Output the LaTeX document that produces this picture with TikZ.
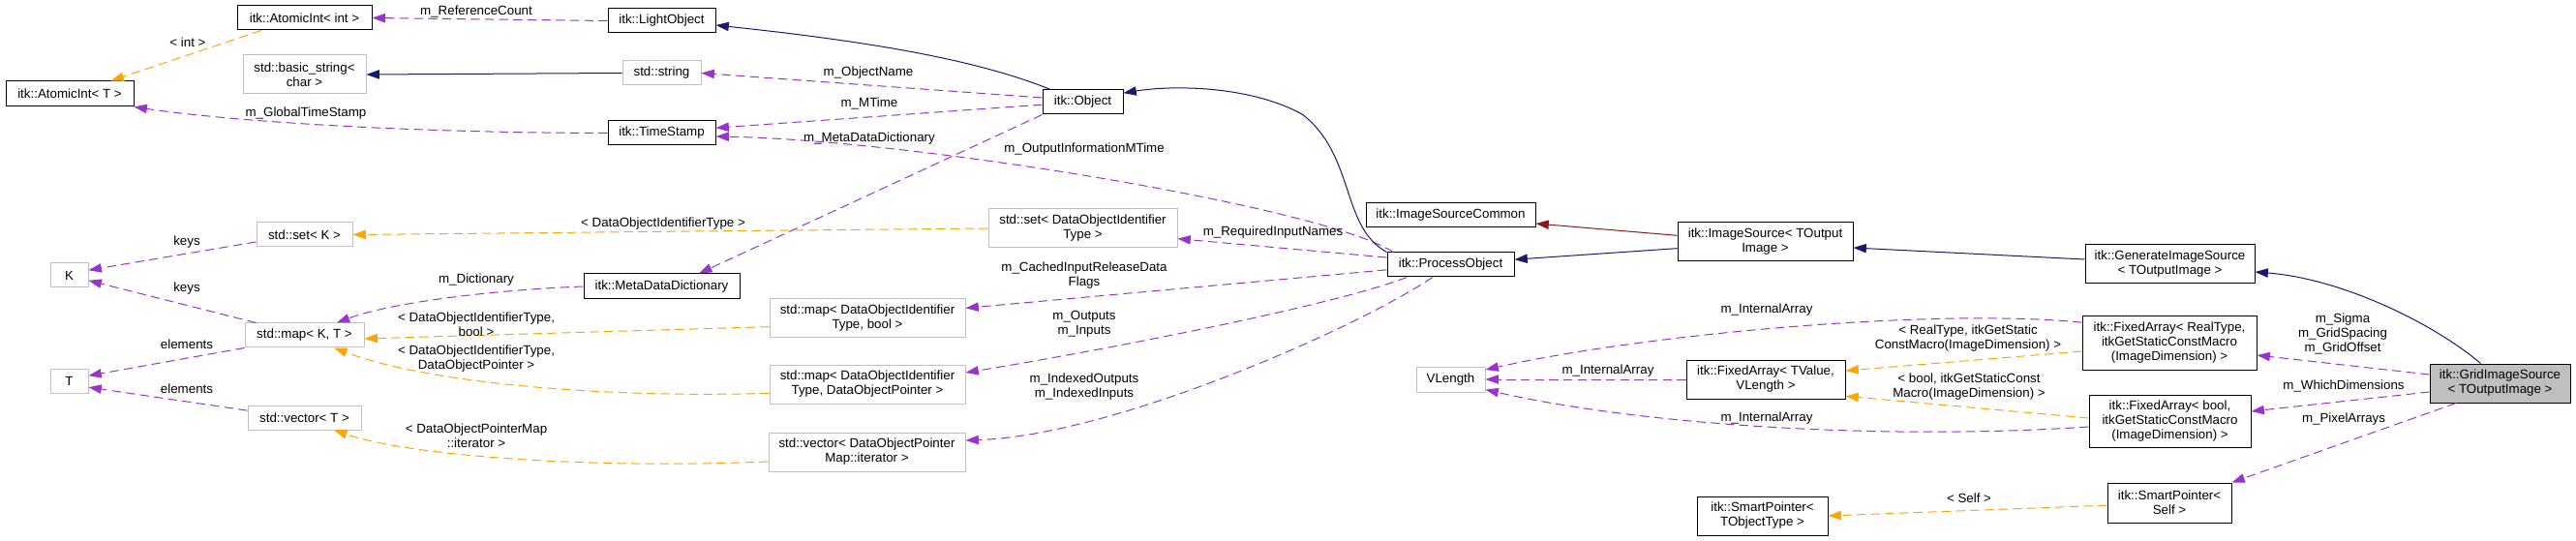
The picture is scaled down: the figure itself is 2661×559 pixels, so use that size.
\documentclass[tikz,border=0pt]{standalone}
\usepackage{fontspec}
\setmainfont{Liberation Sans}
\usetikzlibrary{arrows.meta}
\definecolor{memberc}{HTML}{9A32CD}
\definecolor{tmplc}{HTML}{FFA500}
\definecolor{inhc}{HTML}{191970}
\definecolor{privc}{HTML}{8B1A1A}
\definecolor{framec}{HTML}{BFBFBF}
\begin{document}
\begin{tikzpicture}[
  x=0.75pt, y=-0.75pt,
  font=\fontsize{10}{11.25}\selectfont,
  box/.style={draw=black, line width=0.75pt, fill=white, align=center, inner sep=1pt},
  ext/.style={box, draw=framec},
  sz/.style 2 args={minimum width=#1*0.75pt, minimum height=#2*0.75pt},
  link/.style={line width=0.75pt, -{Triangle[length=10pt,width=7pt]}},
  member/.style={link, draw=memberc, dash pattern=on 7pt off 4pt},
  tmpl/.style={link, draw=tmplc, dash pattern=on 7pt off 4pt},
  inh/.style={link, draw=inhc},
  priv/.style={link, draw=privc},
  lbl/.style={align=center, inner sep=0pt}
]
\useasboundingbox (0,0) rectangle (2661,559);
\node[box, sz={139}{25}] (aint) at (314.5,18.5) {itk::AtomicInt< int >};
\node[box, sz={132}{26}] (aintT) at (72,97) {itk::AtomicInt< T >};
\node[ext, sz={127}{40}] (bstr) at (314.5,77) {std::basic\_string<\\char >};
\node[ext, sz={99}{25}] (setK) at (314.5,242.5) {std::set< K >};
\node[ext, sz={39}{25}] (K) at (71.5,284.5) {K};
\node[ext, sz={123}{25}] (mapKT) at (314.5,346.5) {std::map< K, T >};
\node[ext, sz={39}{25}] (T) at (71.5,393.5) {T};
\node[ext, sz={117}{25}] (vecT) at (314.5,431.5) {std::vector< T >};
\node[box, sz={111}{25}] (lobj) at (683.5,21.5) {itk::LightObject};
\node[ext, sz={81}{25}] (str) at (683.5,75.5) {std::string};
\node[box, sz={111}{25}] (tstamp) at (683.5,137.5) {itk::TimeStamp};
\node[box, sz={161}{26}] (mdd) at (683.5,296) {itk::MetaDataDictionary};
\node[ext, sz={202}{40}] (mapbool) at (896,329) {std::map< DataObjectIdentifier\\Type, bool >};
\node[ext, sz={202}{40}] (mapptr) at (896,397) {std::map< DataObjectIdentifier\\Type, DataObjectPointer >};
\node[ext, sz={203}{40}] (vecit) at (895.5,467) {std::vector< DataObjectPointer\\Map::iterator >};
\node[box, sz={83}{25}] (obj) at (1118.5,105.5) {itk::Object};
\node[ext, sz={195}{40}] (setid) at (1118.5,236) {std::set< DataObjectIdentifier\\Type >};
\node[box, sz={175}{25}] (iscom) at (1498.5,222.5) {itk::ImageSourceCommon};
\node[box, sz={131}{25}] (proc) at (1498.5,273.5) {itk::ProcessObject};
\node[ext, sz={71}{26}] (vlen) at (1498.5,392) {VLength};
\node[box, sz={181}{40}] (isrc) at (1823.5,250) {itk::ImageSource< TOutput\\Image >};
\node[box, sz={164}{40}] (fatv) at (1824,392) {itk::FixedArray< TValue,\\VLength >};
\node[box, sz={135}{40}] (spobj) at (1820.5,533) {itk::SmartPointer<\\TObjectType >};
\node[box, sz={175}{40}] (gis) at (2241.5,273) {itk::GenerateImageSource\\< TOutputImage >};
\node[box, sz={180}{55}] (fareal) at (2241,354.5) {itk::FixedArray< RealType,\\itkGetStaticConstMacro\\(ImageDimension) >};
\node[box, sz={167}{54}] (fabool) at (2241.5,435) {itk::FixedArray< bool,\\itkGetStaticConstMacro\\(ImageDimension) >};
\node[box, sz={128}{41}] (spself) at (2241,519.5) {itk::SmartPointer<\\Self >};
\node[box, sz={145}{40}, fill=framec] (grid) at (2582.5,396) {itk::GridImageSource\\< TOutputImage >};
\draw[member] (lobj.west) -- (aint.east) node[lbl] (l1) at (492,12) {m\_ReferenceCount};
\draw[tmpl] ([xshift=19pt]aint.south west) -- ([xshift=32pt]aintT.north) node[lbl] (l2) at (194,44) {< int >};
\draw[member] (tstamp.west) .. controls (400,137) and (230,124) .. (aintT.south east) node[lbl] (l3) at (316,117) {m\_GlobalTimeStamp};
\draw[inh] (str.west) -- (bstr.east);
\draw[inh] ([xshift=-25pt]obj.north) .. controls (1010,62) and (900,43) .. ([yshift=-3.4pt]lobj.east);
\draw[member] ([yshift=3.4pt]obj.west) -- (str.east) node[lbl] (l4) at (897,75) {m\_ObjectName};
\draw[member] ([yshift=-2pt]obj.west) -- ([yshift=4pt]tstamp.east) node[lbl] (l5) at (898,107) {m\_MTime};
\draw[member] (obj.south west) -- ([xshift=29pt]mdd.north) node[lbl] (l6) at (898,143) {m\_MetaDataDictionary};
\draw[member] ([xshift=5pt]proc.north west) .. controls (1370,215) and (950,145) .. ([yshift=-2.6pt]tstamp.east) node[lbl] (l7) at (1120,154) {m\_OutputInformationMTime};
\draw[member] (mdd.west) .. controls (500,300) and (400,314) .. ([xshift=25pt]mapKT.north) node[lbl] (l8) at (492,289) {m\_Dictionary};
\draw[tmpl] (setid.west) -- (setK.east) node[lbl] (l9) at (685,231) {< DataObjectIdentifierType >};
\draw[member] ([yshift=-5.6pt]setK.west) -- ([yshift=4pt]K.east) node[lbl] (l10) at (193,250) {keys};
\draw[member] ([xshift=9pt]mapKT.north west) -- ([yshift=-4pt]K.east) node[lbl] (l11) at (193,298) {keys};
\draw[member] (mapKT.south west) -- ([yshift=4pt]T.east) node[lbl] (l12) at (193,356) {elements};
\draw[member] ([yshift=5.5pt]vecT.west) -- ([yshift=-5pt]T.east) node[lbl] (l13) at (193,402) {elements};
\draw[tmpl] ([yshift=-6.5pt]mapbool.west) -- ([yshift=-2.6pt]mapKT.east) node[lbl] (l14) at (492,335) {< DataObjectIdentifierType,\\bool >};
\draw[tmpl] ([yshift=-7pt]mapptr.west) .. controls (600,412) and (430,392) .. ([xshift=23pt]mapKT.south) node[lbl] (l15) at (492,371) {< DataObjectIdentifierType,\\DataObjectPointer >};
\draw[tmpl] ([yshift=-7.5pt]vecit.west) .. controls (600,485) and (420,470) .. ([xshift=23pt]vecT.south) node[lbl] (l16) at (492,450) {< DataObjectPointerMap\\::iterator >};
\draw[inh] (proc.north west) .. controls (1385,235) and (1400,160) .. (1345,118) .. controls (1290,88) and (1210,88) .. ([yshift=7pt]obj.east);
\draw[member] ([yshift=5.6pt]proc.west) -- ([yshift=-8pt]setid.east) node[lbl] (l17) at (1315,240) {m\_RequiredInputNames};
\draw[member] ([yshift=-4pt]proc.west) -- ([yshift=8pt]mapbool.east) node[lbl] (l18) at (1120,284.5) {m\_CachedInputReleaseData\\Flags};
\draw[member] ([xshift=-34pt]proc.south) .. controls (1380,315) and (1150,360) .. ([yshift=9pt]mapptr.east) node[lbl] (l19) at (1120,335) {m\_Outputs\\m\_Inputs};
\draw[member] ([xshift=-14pt]proc.south) .. controls (1400,340) and (1150,450) .. ([yshift=9pt]vecit.east) node[lbl] (l20) at (1120,400) {m\_IndexedOutputs\\m\_IndexedInputs};
\draw[priv] ([yshift=5pt]isrc.west) -- ([yshift=-6.4pt]iscom.east);
\draw[inh] ([yshift=-5pt]isrc.west) -- ([yshift=4pt]proc.east);
\draw[inh] ([yshift=3.75pt]gis.west) -- ([yshift=-4.5pt]isrc.east);
\draw[inh] ([xshift=-15pt]grid.north) .. controls (2515,335) and (2420,288) .. ([yshift=-6pt]gis.east);
\draw[member] ([yshift=6.75pt]grid.west) -- ([yshift=-9.4pt]fareal.east) node[lbl] (l21) at (2420,345) {m\_Sigma\\m\_GridSpacing\\m\_GridOffset};
\draw[member] ([yshift=-6.75pt]grid.west) -- ([yshift=7.5pt]fabool.east) node[lbl] (l22) at (2421,399) {m\_WhichDimensions};
\draw[member] ([xshift=-34pt]grid.south) -- (spself.north east) node[lbl] (l23) at (2421,433) {m\_PixelArrays};
\draw[tmpl] ([yshift=-2pt]spself.west) -- (spobj.east) node[lbl] (l24) at (2034,515) {< Self >};
\draw[tmpl] ([yshift=-6.4pt]fareal.west) -- ([yshift=6.75pt]fatv.east) node[lbl] (l25) at (2033,349.5) {< RealType, itkGetStatic\\ConstMacro(ImageDimension) >};
\draw[tmpl] ([yshift=2.25pt]fabool.west) -- ([yshift=-13pt]fatv.east) node[lbl] (l26) at (2034,399.5) {< bool, itkGetStaticConst\\Macro(ImageDimension) >};
\draw[member] ([yshift=16pt]fareal.west) .. controls (2000,318) and (1700,345) .. ([yshift=7.5pt]vlen.east) node[lbl] (l27) at (1825,320) {m\_InternalArray};
\draw[member] (fatv.west) -- (vlen.east) node[lbl] (l28) at (1661,383) {m\_InternalArray};
\draw[member] ([yshift=-4.5pt]fabool.west) .. controls (1950,455) and (1700,440) .. ([yshift=-8pt]vlen.east) node[lbl] (l29) at (1825,432) {m\_InternalArray};
\end{tikzpicture}
\end{document}
